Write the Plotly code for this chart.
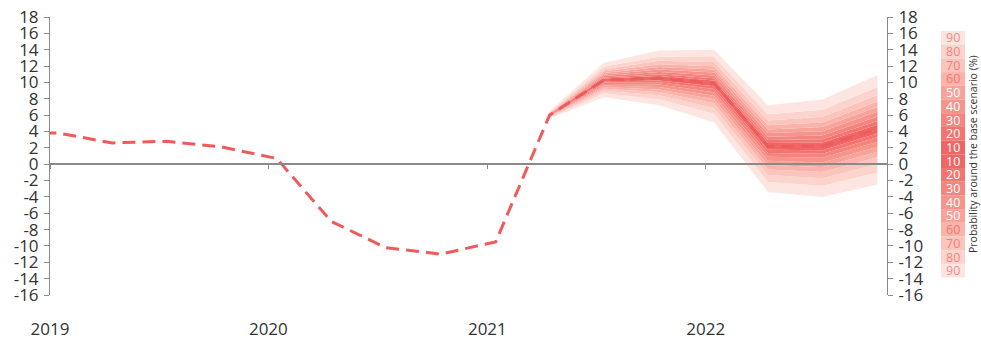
import plotly.graph_objects as go

# Quarterly observations and projection of the base scenario (%)
QUARTERS = [
    "2018-10-15",
    "2019-01-15", "2019-04-15", "2019-07-15", "2019-10-15",
    "2020-01-15", "2020-04-15", "2020-07-15", "2020-10-15",
    "2021-01-15", "2021-04-15", "2021-07-15", "2021-10-15",
    "2022-01-15", "2022-04-15", "2022-07-15", "2022-10-15",
]
BASE = [3.9, 3.8, 2.6, 2.8, 2.1, 0.7, -7.0, -10.2, -11.0, -9.5,
        6.0, 10.3, 10.5, 9.9, 2.2, 2.2, 4.3]

# Fan: projection quarters with the outer (90 %) band limits
FAN_QUARTERS = ["2021-04-15", "2021-07-15", "2021-10-15",
                "2022-01-15", "2022-04-15", "2022-07-15", "2022-10-15"]
FAN_CENTER = [6.0, 10.3, 10.5, 9.9, 2.2, 2.2, 4.3]
FAN_UPPER_90 = [6.5, 12.4, 13.9, 14.0, 7.2, 7.9, 10.9]
FAN_LOWER_90 = [5.6, 8.2, 7.2, 5.1, -3.4, -4.0, -2.5]

# Probability levels, share of the 90 % half-width at each level, colours
LEVELS = [10, 20, 30, 40, 50, 60, 70, 80, 90]
LEVEL_SHARE = [0.08, 0.15, 0.23, 0.32, 0.41, 0.51, 0.63, 0.78, 1.0]
LEVEL_COLORS = ["#ef6666", "#f27572", "#f4847e", "#f6938b", "#f8a39a",
                "#f9b3aa", "#fbc4bc", "#fcd4cd", "#fde6e1"]
LEVEL_TEXT = ["#ffffff", "#ffffff", "#ffffff", "#ffffff", "#ffffff",
              "#f27a74", "#f47f79", "#f6847e", "#f88a84"]

Y_TICKS = list(range(-16, 19, 2))
Y_TICK_TEXT = [str(v) for v in Y_TICKS]
YEAR_TICKS = ["2019-01-01", "2020-01-01", "2021-01-01", "2022-01-01"]
YEAR_LABELS = ["2019", "2020", "2021", "2022"]
X_RANGE = ["2019-01-01", "2022-10-31"]
Y_RANGE = [-16, 18]
LEGEND_TITLE = "Probability around the base scenario (%)"

FONT = "Open Sans"
TEXT = "#333333"
AXIS = "#8a8a8a"
LINE = "#ef5b5b"

W, H = 981, 341
L, R, T, B = 50, 94, 17, 46
PW, PH = W - L - R, H - T - B


def px_x(px):
    return (px - L) / PW


def px_y(py):
    return (H - B - py) / PH


def band(level_idx, sign):
    s = LEVEL_SHARE[level_idx]
    out = []
    for c, u, lo in zip(FAN_CENTER, FAN_UPPER_90, FAN_LOWER_90):
        out.append(c + s * (u - c) if sign > 0 else c - s * (c - lo))
    return out


fig = go.Figure()

# Fan bands: edges stacked from the lowest 90 % limit to the highest,
# each edge filled down to the previous one with its band colour
edges = [(band(len(LEVELS) - 1, -1), None)]
for i in range(len(LEVELS) - 2, -1, -1):
    edges.append((band(i, -1), LEVEL_COLORS[i + 1]))
edges.append((band(0, 1), LEVEL_COLORS[0]))
for i in range(1, len(LEVELS)):
    edges.append((band(i, 1), LEVEL_COLORS[i]))

for vals, color in edges:
    fig.add_trace(go.Scatter(
        x=FAN_QUARTERS, y=vals, mode="lines",
        line=dict(width=0, color="rgba(0,0,0,0)"),
        fill="tonexty" if color else None,
        fillcolor=color,
        hoverinfo="skip", showlegend=False,
    ))

# Base scenario line
fig.add_trace(go.Scatter(
    x=QUARTERS, y=BASE, mode="lines",
    line=dict(color=LINE, width=3, dash="13px,7px"),
    showlegend=False,
))

# Helper trace carrying the secondary axes (zero line and right scale)
fig.add_trace(go.Scatter(x=X_RANGE, y=[0, 0], xaxis="x2", yaxis="y2",
                         mode="lines", line=dict(width=0), hoverinfo="skip",
                         showlegend=False))

zero_pos = (0 - Y_RANGE[0]) / (Y_RANGE[1] - Y_RANGE[0])
tick_font = dict(family=FONT, size=17, color=TEXT)

fig.update_layout(
    width=W, height=H,
    margin=dict(l=L, r=R, t=T, b=B, autoexpand=False),
    paper_bgcolor="white", plot_bgcolor="white",
    font=dict(family=FONT, color=TEXT),
    xaxis=dict(
        type="date", range=X_RANGE, automargin=False,
        tickvals=YEAR_TICKS, ticktext=YEAR_LABELS,
        showgrid=False, zeroline=False, showline=False, ticks="",
        tickfont=tick_font, ticklabelstandoff=22,
    ),
    xaxis2=dict(
        type="date", range=X_RANGE, overlaying="x", anchor="free",
        position=zero_pos, tickvals=YEAR_TICKS, showticklabels=False,
        automargin=False,
        showgrid=False, zeroline=False, showline=True, linecolor=AXIS,
        linewidth=1.5, ticks="outside", ticklen=4, tickcolor=AXIS, tickwidth=1,
    ),
    yaxis=dict(
        range=Y_RANGE, tickvals=Y_TICKS, ticktext=Y_TICK_TEXT, automargin=False,
        showgrid=False, zeroline=False, showline=True, linecolor=AXIS,
        linewidth=1, ticks="outside", ticklen=5, tickcolor=AXIS,
        tickfont=tick_font, ticklabelstandoff=2,
    ),
    yaxis2=dict(
        range=Y_RANGE, tickvals=Y_TICKS, ticktext=Y_TICK_TEXT, automargin=False,
        overlaying="y", side="right", anchor="x",
        showgrid=False, zeroline=False, showline=True, linecolor=AXIS,
        linewidth=1, ticks="outside", ticklen=5, tickcolor=AXIS,
        tickfont=tick_font, ticklabelstandoff=2,
    ),
    showlegend=False,
)

# Probability key to the right of the chart
row_h = 13.7
top = 31
key_labels = list(reversed(LEVELS)) + LEVELS
key_colors = list(reversed(LEVEL_COLORS)) + LEVEL_COLORS
key_text = list(reversed(LEVEL_TEXT)) + LEVEL_TEXT
for r, (lab, col, tcol) in enumerate(zip(key_labels, key_colors, key_text)):
    y0 = top + r * row_h
    fig.add_shape(type="rect", xref="paper", yref="paper",
                  x0=px_x(941), x1=px_x(965),
                  y0=px_y(y0 + row_h), y1=px_y(y0),
                  fillcolor=col, line=dict(width=0), layer="below")
    fig.add_annotation(xref="paper", yref="paper",
                       x=px_x(953), y=px_y(y0 + row_h / 2),
                       text=str(lab), showarrow=False,
                       font=dict(family=FONT, size=12.5, color=tcol),
                       xanchor="center", yanchor="middle")

fig.add_annotation(xref="paper", yref="paper", x=px_x(973), y=px_y(154),
                   text=LEGEND_TITLE, textangle=-90, showarrow=False,
                   font=dict(family=FONT, size=10.5, color=TEXT),
                   xanchor="center", yanchor="middle")

fig.write_html("out.html")
